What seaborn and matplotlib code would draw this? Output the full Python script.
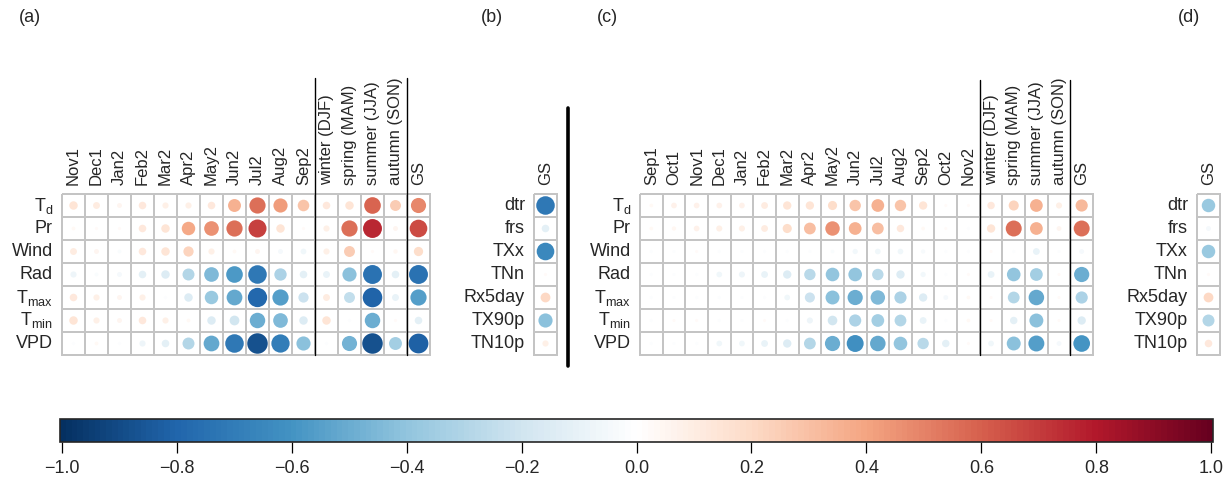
import numpy as np
import pandas as pd
import matplotlib
matplotlib.use("Agg")
import matplotlib.pyplot as plt
import seaborn as sns
from matplotlib.colors import LinearSegmentedColormap, ListedColormap, Normalize
from matplotlib.lines import Line2D
from matplotlib.cm import ScalarMappable

# =========================================================
# DATA
# =========================================================

ROWS_CLIM = [r"$\mathregular{T_d}$", "Pr", "Wind", "Rad",
             r"$\mathregular{T_{max}}$", r"$\mathregular{T_{min}}$", "VPD"]
ROWS_EXT = ["dtr", "frs", "TXx", "TNn", "Rx5day", "TX90p", "TN10p"]

SEASONS = ["winter (DJF)", "spring (MAM)", "summer (JJA)", "autumn (SON)", "GS"]
COLS_A = ["Nov1", "Dec1", "Jan2", "Feb2", "Mar2", "Apr2", "May2", "Jun2",
          "Jul2", "Aug2", "Sep2"] + SEASONS
COLS_C = ["Sep1", "Oct1", "Nov1", "Dec1", "Jan2", "Feb2", "Mar2", "Apr2",
          "May2", "Jun2", "Jul2", "Aug2", "Sep2", "Oct2", "Nov2"] + SEASONS

CB_TICKS = [-1.0, -0.8, -0.6, -0.4, -0.2, 0.0, 0.2, 0.4, 0.6, 0.8, 1.0]

# panel (a): rows Td, Pr, Wind, Rad, Tmax, Tmin, VPD
corr_a = [
    [0.15, 0.10, 0.05, 0.12, 0.08, 0.08, 0.12, 0.35, 0.55, 0.42, 0.28, 0.12, 0.15, 0.58, 0.25, 0.48],
    [0.03, 0.02, 0.02, 0.12, 0.15, 0.38, 0.45, 0.55, 0.68, 0.15, 0.02, 0.08, 0.55, 0.75, 0.05, 0.65],
    [0.10, 0.05, -0.03, 0.12, 0.15, 0.22, 0.08, 0.03, 0.05, -0.05, -0.07, 0.08, 0.25, 0.02, 0.04, 0.18],
    [-0.08, -0.03, -0.05, -0.12, -0.15, -0.30, -0.45, -0.58, -0.72, -0.32, -0.12, -0.10, -0.42, -0.75, -0.12, -0.75],
    [0.12, 0.08, 0.05, 0.08, -0.02, -0.15, -0.38, -0.52, -0.78, -0.55, -0.22, 0.10, -0.25, -0.80, -0.10, -0.55],
    [0.15, 0.08, 0.05, 0.12, 0.08, 0.03, -0.15, -0.20, -0.50, -0.45, -0.15, 0.15, -0.02, -0.50, 0.02, -0.12],
    [-0.02, 0.03, -0.02, -0.08, -0.12, -0.30, -0.52, -0.72, -0.88, -0.70, -0.42, -0.02, -0.48, -0.88, -0.35, -0.82],
]

# panel (b): GS
corr_b = [-0.72, -0.12, -0.65, 0.02, 0.20, -0.42, 0.08]

# panel (c)
corr_c = [
    [0.03, 0.07, 0.07, 0.07, 0.07, 0.10, 0.15, 0.15, 0.18, 0.28, 0.35, 0.28, 0.15, 0.02, 0.02, 0.12, 0.22, 0.35, 0.08, 0.32],
    [0.03, 0.04, 0.07, 0.08, 0.08, 0.10, 0.18, 0.30, 0.45, 0.35, 0.30, 0.12, 0.03, 0.02, -0.02, 0.15, 0.55, 0.35, 0.05, 0.55],
    [-0.02, -0.02, 0.02, -0.02, -0.02, -0.02, -0.02, -0.02, -0.03, -0.06, -0.07, -0.07, -0.04, -0.02, -0.02, 0.02, -0.02, -0.10, -0.02, -0.05],
    [-0.02, -0.02, -0.02, -0.07, -0.08, -0.10, -0.15, -0.28, -0.40, -0.40, -0.28, -0.15, -0.06, -0.02, 0.02, -0.10, -0.40, -0.35, 0.02, -0.50],
    [-0.02, -0.02, -0.02, -0.02, -0.02, -0.02, -0.07, -0.22, -0.42, -0.50, -0.45, -0.32, -0.15, -0.05, 0.03, 0.02, -0.30, -0.52, 0.02, -0.32],
    [-0.02, 0.02, 0.02, -0.02, -0.02, 0.02, -0.02, -0.08, -0.20, -0.32, -0.35, -0.30, -0.10, -0.02, 0.03, 0.02, -0.12, -0.42, 0.02, -0.15],
    [-0.02, -0.02, -0.02, -0.07, -0.07, -0.10, -0.15, -0.30, -0.50, -0.62, -0.52, -0.40, -0.28, -0.12, 0.02, -0.07, -0.42, -0.55, -0.05, -0.60],
]

# panel (d): GS
corr_d = [-0.38, -0.05, -0.38, 0.02, 0.20, -0.30, 0.12]

# =========================================================
# STYLE
# =========================================================

sns.set_theme(style="white")
plt.rcParams["font.family"] = ["Liberation Sans", "DejaVu Sans"]
plt.rcParams["axes.unicode_minus"] = True
plt.rcParams["mathtext.fontset"] = "custom"
plt.rcParams["mathtext.rm"] = "Liberation Sans"

COL2 = ["#053061", "#2166AC", "#4393C3", "#92C5DE", "#D1E5F0", "#FFFFFF",
        "#FDDBC7", "#F4A582", "#D6604D", "#B2182B", "#67001F"]
cmap = LinearSegmentedColormap.from_list("corr", COL2, N=200)

W, H = 1230, 483
fig = plt.figure(figsize=(W / 100, H / 100), dpi=100)


def px_axes(x0, y0, x1, y1):
    return fig.add_axes([x0 / W, 1 - y1 / H, (x1 - x0) / W, (y1 - y0) / H])


def vline_px(x, y0, y1, lw=1.0):
    fig.add_artist(Line2D([x / W, x / W], [1 - y0 / H, 1 - y1 / H],
                          color="black", lw=lw))


def corr_panel(ax, values, rows, cols, cell_px):
    mat = pd.DataFrame(np.array(values, dtype=float).reshape(len(rows), len(cols)),
                       index=rows, columns=cols)
    sns.heatmap(np.zeros(mat.shape), ax=ax, cmap=ListedColormap(["white"]),
                cbar=False, linewidths=1.4, linecolor="#c4c4c4",
                xticklabels=cols, yticklabels=rows)
    ax.collections[0].set_clip_on(False)

    long = mat.reset_index(names="row").melt(id_vars="row", var_name="col", value_name="r")
    long["xc"] = long["col"].map({c: i + 0.5 for i, c in enumerate(cols)})
    long["yc"] = long["row"].map({r: i + 0.5 for i, r in enumerate(rows)})
    long["absr"] = long["r"].abs()

    # circle area proportional to |r|
    smax = (0.95 * cell_px * 72 / 100) ** 2
    sns.scatterplot(data=long, x="xc", y="yc", hue="r", palette=cmap,
                    hue_norm=(-1, 1), size="absr", sizes=(0, smax),
                    size_norm=(0, 1), linewidth=0, legend=False, ax=ax)

    ax.set_xlim(0, len(cols))
    ax.set_ylim(len(rows), 0)
    ax.set_xlabel("")
    ax.set_ylabel("")
    ax.xaxis.tick_top()
    ax.tick_params(axis="both", length=0, pad=6.5)
    ax.set_xticks(np.arange(len(cols)) + 0.5)
    ax.set_xticklabels(cols, rotation=90, fontsize=12, va="bottom")
    ax.set_yticks(np.arange(len(rows)) + 0.5)
    ax.set_yticklabels(rows, rotation=0, fontsize=13)
    for s in ax.spines.values():
        s.set_visible(False)


# =========================================================
# PANELS
# =========================================================

Y0, Y1 = 194, 355

ax_a = px_axes(62, Y0, 62 + 23 * len(COLS_A), Y1)
corr_panel(ax_a, corr_a, ROWS_CLIM, COLS_A, 23)

ax_b = px_axes(534, Y0, 557, Y1)
corr_panel(ax_b, corr_b, ROWS_EXT, ["GS"], 23)

cw_c = 22.65
ax_c = px_axes(640, Y0, 640 + cw_c * len(COLS_C), Y1)
corr_panel(ax_c, corr_c, ROWS_CLIM, COLS_C, cw_c)

ax_d = px_axes(1197, Y0, 1220, Y1)
corr_panel(ax_d, corr_d, ROWS_EXT, ["GS"], 23)

# separators between months / seasons / GS
vline_px(62 + 23 * 11, 78, Y1)
vline_px(62 + 23 * 15, 78, Y1)
vline_px(640 + cw_c * 15, 80, Y1)
vline_px(640 + cw_c * 19, 80, Y1)

# thick divider between (b) and (c)
vline_px(568, 108, 366, lw=2.6)

for lab, x in [("(a)", 19), ("(b)", 481), ("(c)", 597), ("(d)", 1178)]:
    fig.text(x / W, 1 - 18 / H, lab, fontsize=13, va="center", ha="left")

# =========================================================
# COLORBAR
# =========================================================

cax = px_axes(60, 419, 1213, 442)
sm = ScalarMappable(norm=Normalize(-1.003, 1.003), cmap=cmap)
cb = fig.colorbar(sm, cax=cax, orientation="horizontal", ticks=CB_TICKS)
cb.ax.set_xticklabels([f"{t:.1f}".replace("-", "\u2212") for t in CB_TICKS])
cb.ax.tick_params(axis="x", length=8, width=0.9, labelsize=13, pad=5,
                  direction="out", bottom=True, color="black")
cb.outline.set_linewidth(1.2)

fig.savefig("out.png", dpi=100)
